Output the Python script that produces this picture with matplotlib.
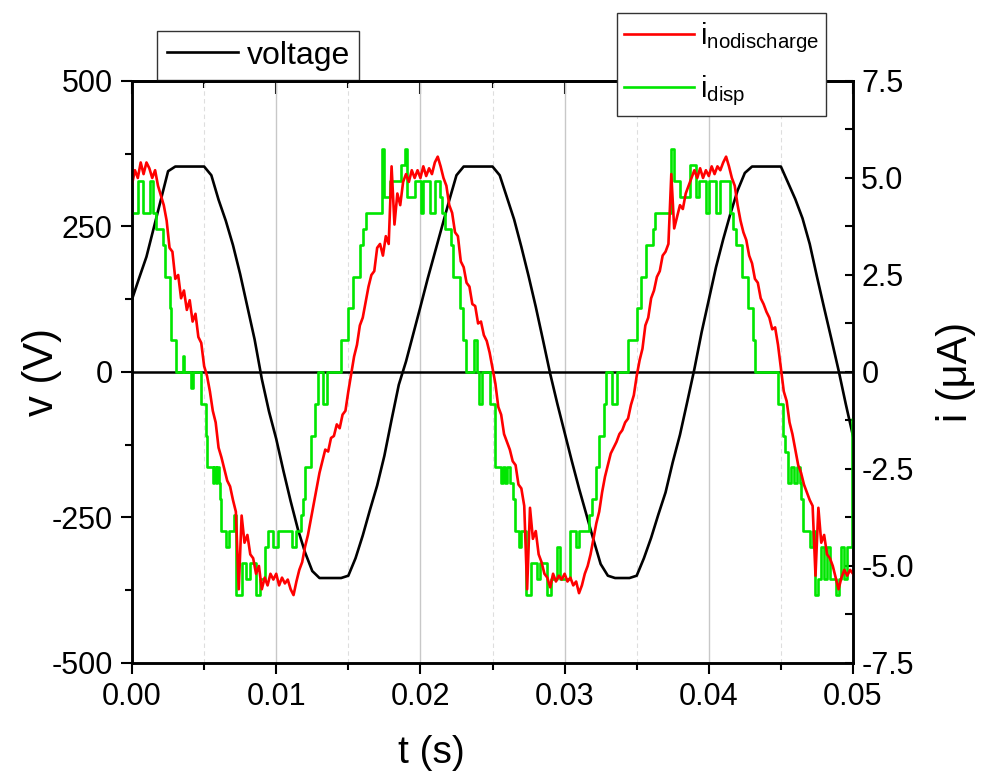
import matplotlib
matplotlib.use("Agg")
import matplotlib.pyplot as plt
import numpy as np
from matplotlib.ticker import MultipleLocator, FormatStrFormatter

# voltage (V), every 0.5 ms from t = 0 to 0.05 s
volt_v = [125, 162, 198, 247, 296, 345, 353, 353, 353, 353,
          353, 338, 296, 260, 218, 168, 112, 56, -12, -68,
          -115, -170, -222, -270, -310, -342, -354, -354, -354, -354,
          -350, -320, -281, -237, -195, -144, -82, -22, 18, 65,
          112, 160, 205, 250, 295, 338, 353, 353, 353, 353,
          353, 338, 300, 262, 215, 165, 112, 55, -3, -55,
          -104, -153, -200, -244, -288, -330, -350, -354, -354, -354,
          -350, -320, -285, -245, -207, -155, -108, -52, 5, 68,
          124, 180, 228, 272, 312, 342, 353, 353, 353, 353,
          353, 325, 297, 264, 220, 164, 110, 57, 3, -55,
          -110]
volt_t = np.linspace(0, 0.05, len(volt_v))

# i_nodischarge (uA), sampled every 0.2 ms from t = 0 to 0.05 s
i_nodis = [4.84, 5.2, 5.0, 5.4, 5.1, 5.4, 5.25, 5.0, 5.2, 4.8,
           4.55, 4.3, 3.9, 3.2, 3.1, 2.4, 2.5, 1.9, 2.1, 1.6,
           1.85, 1.3, 1.5, 0.9, 0.75, 0.15, -0.1, -0.5, -1.0, -1.3,
           -1.95, -2.2, -2.5, -2.8, -2.95, -3.3, -3.6, -5.6, -3.7, -4.4,
           -4.2, -4.7, -4.8, -5.2, -5.0, -5.6, -5.3, -5.5, -5.2, -5.35,
           -5.2, -5.5, -5.3, -5.45, -5.35, -5.6, -5.75, -5.4, -5.1, -4.9,
           -4.5, -4.2, -3.8, -3.4, -3.0, -2.6, -2.3, -2.0, -2.05, -1.7,
           -1.65, -1.35, -1.45, -1.1, -1.0, -0.5, -0.05, 0.4, 0.7, 1.2,
           1.4, 1.8, 2.2, 2.5, 2.6, 3.2, 3.3, 3.0, 3.5, 3.3,
           5.3, 3.8, 4.6, 4.3, 4.9, 5.1, 4.9, 5.2, 5.0, 5.2,
           5.0, 5.3, 5.05, 5.25, 5.1, 5.4, 5.55, 5.3, 5.0, 4.8,
           4.3, 4.1, 3.6, 3.5, 2.85, 2.7, 2.3, 2.2, 1.75, 1.7,
           1.25, 1.3, 0.95, 0.8, 0.5, 0.1, -0.3, -0.9, -1.1, -1.6,
           -1.8, -2.0, -2.3, -2.4, -2.9, -3.0, -3.45, -5.6, -3.5, -4.3,
           -4.1, -4.7, -4.9, -5.2, -5.3, -5.55, -5.2, -5.4, -5.25, -5.35,
           -5.2, -5.4, -5.3, -5.5, -5.4, -5.7, -5.5, -5.2, -5.0, -4.7,
           -4.3, -3.9, -3.6, -3.1, -2.7, -2.4, -2.1, -1.95, -1.8, -1.6,
           -1.5, -1.3, -1.2, -0.85, -0.6, -0.1, 0.3, 0.6, 1.2, 1.4,
           1.9, 2.1, 2.45, 2.6, 3.0, 3.1, 3.3, 5.1, 3.7, 4.0,
           4.3, 4.2, 4.6, 4.8, 5.0, 5.2, 5.0, 5.25, 5.0, 5.2,
           5.05, 5.3, 5.1, 5.3, 5.2, 5.4, 5.55, 5.3, 5.0, 4.8,
           4.3, 3.9, 3.6, 3.4, 3.0, 2.8, 2.4, 2.3, 1.9, 1.75,
           1.55, 1.4, 1.1, 1.15, 0.7, 0.1, -0.5, -0.75, -1.3, -1.6,
           -2.0, -2.4, -2.6, -2.9, -3.1, -3.3, -3.45, -5.25, -3.5, -4.4,
           -4.2, -4.7, -4.8, -5.0, -5.3, -5.6, -5.3, -5.1, -5.25, -5.1,
           -5.2]
nodis_t = np.linspace(0, 0.05, len(i_nodis))

# i_disp (uA), quantised steps: times where the level changes
disp_t = [0.0, 0.00042, 0.00076, 0.00123, 0.00146, 0.00169, 0.00215, 0.00227, 0.00262,
          0.00273, 0.00308, 0.0035, 0.0036, 0.0041, 0.0042, 0.0048, 0.0051, 0.0052,
          0.0056, 0.0057, 0.0058, 0.0059, 0.0060, 0.0061, 0.00615, 0.0065, 0.0067,
          0.0071, 0.00724, 0.0076, 0.0079, 0.0082, 0.0086, 0.0089, 0.0092, 0.0094,
          0.0098, 0.0101, 0.0111, 0.0114, 0.0117, 0.01186, 0.0120, 0.0124, 0.0127,
          0.0129, 0.01325, 0.0135, 0.01452, 0.01498, 0.01533, 0.0158, 0.0160, 0.01626,
          0.01733, 0.0175, 0.01786, 0.01868, 0.01891, 0.01905, 0.0196, 0.02007, 0.0202,
          0.02065, 0.02099, 0.02134, 0.0215, 0.02169, 0.02215, 0.02226, 0.02272, 0.02295,
          0.02318, 0.0237, 0.0239, 0.02405, 0.0243, 0.02485, 0.02515, 0.0252, 0.0256,
          0.0257, 0.0259, 0.0260, 0.0262, 0.0264, 0.02655, 0.02684, 0.02696, 0.0273,
          0.0277, 0.0281, 0.0283, 0.0288, 0.02905, 0.0295, 0.0297, 0.0304, 0.0308,
          0.0310, 0.0317, 0.0319, 0.0322, 0.0324, 0.0327, 0.0329, 0.0333, 0.0336,
          0.0344, 0.0350, 0.0353, 0.03567, 0.0361, 0.03625, 0.0374, 0.0376, 0.0380,
          0.03868, 0.0391, 0.0393, 0.0398, 0.0400, 0.0405, 0.04075, 0.04146, 0.04169,
          0.04192, 0.04227, 0.04273, 0.04308, 0.04319, 0.0448, 0.04514, 0.04526, 0.0455,
          0.0457, 0.0459, 0.0461, 0.0463, 0.0464, 0.0465, 0.0470, 0.0472, 0.04734,
          0.0476, 0.0478, 0.0480, 0.0482, 0.0484, 0.0488, 0.0490, 0.0492, 0.0494,
          0.0496, 0.04995, 0.05]
disp_i = [4.10, 4.92, 4.10, 4.92, 4.10, 3.69, 3.28, 2.46, 1.64,
          0.82, 0.0, 0.41, 0.0, -0.41, 0.0, -0.82, -1.64, -2.46,
          -2.87, -2.46, -2.87, -2.46, -2.87, -3.28, -4.10, -4.51, -4.10,
          -3.69, -5.74, -4.92, -5.33, -4.92, -5.74, -5.33, -4.51, -4.10,
          -4.51, -4.10, -4.51, -4.10, -3.69, -3.28, -2.46, -1.64, -0.82,
          0.0, -0.82, 0.0, 0.82, 1.64, 2.46, 3.28, 3.69, 4.10,
          5.74, 4.51, 4.92, 5.33, 5.74, 4.51, 4.92, 4.10, 4.92,
          4.10, 4.92, 4.51, 4.10, 3.69, 3.28, 2.46, 1.64, 0.82,
          0.0, 0.82, 0.0, -0.82, 0.0, -0.82, -1.64, -2.46, -2.87,
          -2.46, -2.87, -2.46, -2.87, -3.28, -4.10, -4.51, -4.10, -5.74,
          -4.92, -5.33, -4.92, -5.74, -5.33, -4.51, -5.33, -4.10, -4.51,
          -4.10, -3.69, -3.28, -2.46, -1.64, -0.82, 0.0, -0.82, 0.0,
          0.82, 1.64, 2.46, 3.28, 3.69, 4.10, 5.74, 4.92, 4.51,
          5.33, 4.51, 4.92, 4.10, 4.92, 4.10, 4.92, 4.10, 3.69,
          3.28, 2.46, 1.64, 0.82, 0.0, -0.82, -1.64, -2.05, -2.87,
          -2.46, -2.87, -2.46, -2.87, -3.28, -4.10, -4.51, -4.10, -5.74,
          -5.33, -4.51, -5.33, -4.51, -5.33, -5.74, -5.33, -4.51, -5.33,
          -4.51, -1.2, -1.2]

plt.rcParams["font.family"] = ["Liberation Sans", "DejaVu Sans"]
plt.rcParams["mathtext.default"] = "regular"
plt.rcParams["axes.unicode_minus"] = False

fig = plt.figure(figsize=(9.81, 7.72), dpi=100)
ax = fig.add_axes([0.1346, 0.1412, 0.7349, 0.7539])
ax2 = ax.twinx()

# grid (vertical only)
ax.set_xlim(0, 0.05)
ax.set_ylim(-500, 500)
ax.xaxis.set_major_locator(MultipleLocator(0.01))
ax.xaxis.set_minor_locator(MultipleLocator(0.005))
ax.yaxis.set_major_locator(MultipleLocator(250))
ax.yaxis.set_minor_locator(MultipleLocator(125))
ax.xaxis.set_major_formatter(FormatStrFormatter("%.2f"))
ax.grid(axis="x", which="major", color="#c8c8c8", lw=1.0, ls="-")
ax.grid(axis="x", which="minor", color="#dedede", lw=0.8, ls=(0, (4, 3)))
ax.set_axisbelow(True)
ax.axhline(0, color="black", lw=1.8, zorder=1)

ax.plot(volt_t, volt_v, color="black", lw=1.9, label="voltage", zorder=2)

ax2.plot(disp_t, disp_i, color="#00e600", lw=1.9, drawstyle="steps-post",
         label=r"i$_{disp}$")
ax2.plot(nodis_t, i_nodis, color="#ff0000", lw=1.9, label=r"i$_{nodischarge}$")
ax2.set_ylim(-7.5, 7.5)
ax2.yaxis.set_major_locator(MultipleLocator(2.5))
ax2.yaxis.set_minor_locator(MultipleLocator(1.25))
ax2.yaxis.set_major_formatter(
    plt.FuncFormatter(lambda v, p: "0" if abs(v) < 1e-9 else "%.1f" % v))

# ticks
ax.tick_params(axis="both", which="major", direction="out", length=8, width=1.5,
               labelsize=22, pad=6)
ax.tick_params(axis="both", which="minor", direction="out", length=5, width=1.5)
ax2.tick_params(axis="y", which="major", direction="in", length=6, width=1.5,
                labelsize=22, pad=6)
ax2.tick_params(axis="y", which="minor", direction="in", length=6, width=1.5)
top = ax.secondary_xaxis("top")
top.xaxis.set_major_locator(MultipleLocator(0.01))
top.xaxis.set_minor_locator(MultipleLocator(0.005))
top.tick_params(which="major", direction="in", length=9, width=1.5, labeltop=False)
top.tick_params(which="minor", direction="in", length=5, width=1.5)
top.spines["top"].set_linewidth(1.8)
for sp in ax.spines.values():
    sp.set_linewidth(1.8)
for sp in ax2.spines.values():
    sp.set_linewidth(1.8)

ax.set_xlabel("t (s)", fontsize=28)
ax.xaxis.set_label_coords(0.415, -0.123)
ax.set_ylabel("v (V)", fontsize=30)
ax.yaxis.set_label_coords(-0.097, 0.5)
ax2.set_ylabel("i (\u03bcA)", fontsize=30, labelpad=16)

# legends
leg1 = ax.legend(loc="upper left", bbox_to_anchor=(157 / 981, 1 - 31 / 772),
                 bbox_transform=fig.transFigure, fontsize=23, frameon=True,
                 fancybox=False, edgecolor="#333333", framealpha=1,
                 borderpad=0.3, handlelength=2.25, handletextpad=0.25,
                 borderaxespad=0)
leg1.get_frame().set_linewidth(1.0)
h, l = ax2.get_legend_handles_labels()
leg2 = ax2.legend([h[1], h[0]], [l[1], l[0]], loc="upper left",
                  bbox_to_anchor=(617 / 981, 1 - 13 / 772),
                  bbox_transform=fig.transFigure, fontsize=21, frameon=True,
                  fancybox=False, edgecolor="#333333", framealpha=1,
                  borderpad=0.25, handlelength=2.4, handletextpad=0.2,
                  labelspacing=0.65, borderaxespad=0)
leg2.get_frame().set_linewidth(1.0)

fig.savefig("out.png", dpi=100)
